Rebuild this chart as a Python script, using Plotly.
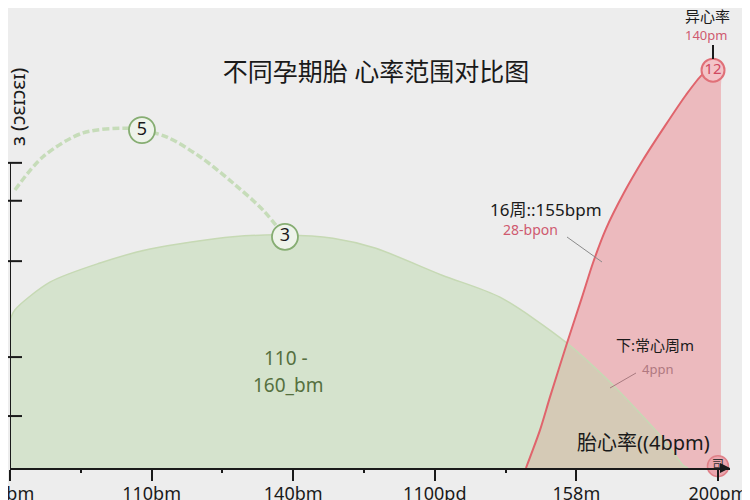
import plotly.graph_objects as go

# page body margin offset (px) of the html page
OFF = 8
W, H = 750 - OFF, 500 - OFF
# plot area on screen: x 10..730, y 8..468
L, R, T, B = 10 - OFF, 750 - 730, 0, 500 - 468
PW, PH = W - L - R, H - T - B
X_MAX = 5.085
Y_PER_PX = 1 / 4.68
Y_MAX = PH * Y_PER_PX

FONT = "Noto Sans, Noto Sans CJK SC, sans-serif"

# ---- data ----
tick_pos = [0, 1, 2, 3, 4, 5]
tick_labels = ["12bm", "110bm", "140bm", "1100pd", "158m", "200pm"]
minor_pos = [0.5, 1.5, 2.5, 3.5]
y_ticks = [65.2, 57.1, 44.2, 23.7, 11.1]

trend_x = [0.035, 0.233, 0.516, 0.847, 0.932, 1.109, 1.342, 1.575, 1.787, 1.942]
trend_y = [59.4, 66.5, 71.6, 72.6, 72.2, 70.7, 66.5, 60.9, 55.1, 49.4]
point_x = [0.932, 1.942]
point_y = [72.2, 49.4]
point_labels = ["5", "3"]

normal_x = [0, 0.035, 0.282, 0.636, 0.989, 1.575, 1.942, 2.281, 2.578, 3.051,
            3.460, 3.934, 4.223, 4.428, 4.640, 4.753, 4.788]
normal_y = [31.6, 33.8, 39.7, 43.8, 46.8, 49.4, 49.8, 49.1, 47.0, 41.2,
            36.5, 26.7, 18.8, 12.4, 5.3, 0.6, 0]

abn_x = [3.644, 3.743, 3.814, 3.934, 4.040, 4.117, 4.209, 4.336, 4.470, 4.626,
         4.774, 4.887, 4.965, 5.021]
abn_y = [0, 8.1, 15.2, 26.7, 36.5, 43.8, 51.1, 58.8, 65.8, 73.1,
         79.7, 84.0, 85.5, 85.5]

peak_x, peak_y, peak_label = [4.965], [85.0], ["12"]
end_x, end_y, end_label = [5.0], [0.4], ["司"]


def px(xs):
    """screen x (px) -> paper x"""
    return (xs - OFF - L) / PW


def py(ys):
    """screen y (px) -> paper y"""
    return (H - B - (ys - OFF)) / PH


fig = go.Figure()

# abnormal (red) area: curve, then straight down the right edge
edge_x = abn_x + [abn_x[-1], abn_x[-1], abn_x[-1]]
edge_y = abn_y + [abn_y[-1] * 0.95, abn_y[-1] * 0.5, 0]
fig.add_trace(go.Scatter(
    x=edge_x, y=edge_y, mode="lines",
    line=dict(color="rgba(0,0,0,0)", width=0, shape="spline", smoothing=0.7),
    fill="tozeroy", fillcolor="#ecbabe", hoverinfo="skip", showlegend=False))

# normal (green) area
fig.add_trace(go.Scatter(
    x=normal_x, y=normal_y, mode="lines",
    line=dict(color="#c6d9b4", width=1.5, shape="spline", smoothing=0.8),
    fill="tozeroy", fillcolor="rgba(190,218,174,0.5)", hoverinfo="skip",
    showlegend=False))

# red edge line
fig.add_trace(go.Scatter(
    x=abn_x[:-1], y=abn_y[:-1], mode="lines",
    line=dict(color="#e0646c", width=2, shape="spline", smoothing=0.7),
    hoverinfo="skip", showlegend=False))

# dashed trend line
fig.add_trace(go.Scatter(
    x=trend_x, y=trend_y, mode="lines",
    line=dict(color="#c6dcb9", width=3.5, dash="7px,3px", shape="spline",
              smoothing=0.9),
    hoverinfo="skip", showlegend=False))

# trend markers
fig.add_trace(go.Scatter(
    x=point_x, y=point_y, mode="markers+text", text=point_labels,
    textposition="middle center",
    textfont=dict(family=FONT, size=18, color="#1a1a1a"),
    marker=dict(size=26, color="#eef3ea", line=dict(color="#86ad72", width=1.8)),
    hoverinfo="skip", showlegend=False))

# peak marker
fig.add_trace(go.Scatter(
    x=peak_x, y=peak_y, mode="markers+text", text=peak_label,
    textposition="middle center",
    textfont=dict(family=FONT, size=15, color="#d04860"),
    marker=dict(size=23, color="#f3c4c8", line=dict(color="#e07078", width=2)),
    hoverinfo="skip", showlegend=False))

# end marker
fig.add_trace(go.Scatter(
    x=end_x, y=end_y, mode="markers+text", text=end_label,
    textposition="middle center",
    textfont=dict(family=FONT, size=12, color="#333333"),
    marker=dict(size=21, color="#eaa6ae", line=dict(color="#e08088", width=1.5)),
    hoverinfo="skip", showlegend=False, cliponaxis=False))

shapes = []
# y axis line
shapes.append(dict(type="line", xref="x", yref="y", x0=0, x1=0, y0=0, y1=y_ticks[0],
                   line=dict(color="#1a1a1a", width=2)))
for yt in y_ticks:
    shapes.append(dict(type="line", xref="paper", yref="y", x0=px(8), x1=px(22),
                       y0=yt, y1=yt, line=dict(color="#1a1a1a", width=2)))
# connector lines
shapes.append(dict(type="line", xref="paper", yref="paper", x0=px(567), y0=py(237),
                   x1=px(602), y1=py(262), line=dict(color="#8a8a8a", width=1)))
shapes.append(dict(type="line", xref="paper", yref="paper", x0=px(610), y0=py(388),
                   x1=px(636), y1=py(373), line=dict(color="#a87a80", width=1)))
shapes.append(dict(type="line", xref="paper", yref="paper", x0=px(713), y0=py(45),
                   x1=px(713), y1=py(59), line=dict(color="#1a1a1a", width=2)))


def ann(xs, ys, text, size, color="#1a1a1a", angle=0):
    return dict(x=px(xs), y=py(ys), xref="paper", yref="paper", text=text,
                showarrow=False, xanchor="center", yanchor="middle",
                textangle=angle, borderpad=0,
                font=dict(family=FONT, size=size, color=color))


annotations = [
    ann(707, 16, "异心率", 15),
    ann(706, 35, "140pm", 13, "#cf5a6f"),
    ann(546, 209, "16周::155bpm", 17),
    ann(530, 229, "28-bpon", 14, "#cf5a6f"),
    ann(655, 345, "下:常心周m", 15),
    ann(657, 369, "4ppn", 13, "#b07880"),
    ann(643, 442, "胎心率((4bpm)", 20),
    ann(286, 358, "110 -", 19, "#55703f"),
    ann(288, 385, "160_bm", 19, "#55703f"),
    ann(18, 107, "ɜ (ɔɛɪɔɛɪ)", 20, "#1a1a1a", -90),
]
# x axis arrow
annotations.append(dict(x=px(730), y=0, xref="paper", yref="paper", ax=-12, ay=0,
                        axref="pixel", ayref="pixel", text="", showarrow=True,
                        arrowhead=2, arrowsize=1, arrowwidth=2, arrowcolor="#1a1a1a"))

fig.update_layout(
    width=W, height=H,
    margin=dict(l=L, r=R, t=T, b=B, autoexpand=False),
    paper_bgcolor="#ededed", plot_bgcolor="#ededed",
    title=dict(text="不同孕期胎 心率范围对比图", x=(376 - OFF) / W, xanchor="center",
               y=1 - (72 - OFF) / H, yanchor="middle",
               font=dict(family=FONT, size=25, color="#1a1a1a")),
    xaxis=dict(range=[0, X_MAX], showgrid=False, zeroline=False, showline=True,
               linecolor="#1a1a1a", linewidth=2, ticks="outside", ticklen=11,
               tickwidth=2, tickcolor="#1a1a1a", tickvals=tick_pos,
               ticktext=tick_labels, ticklabelstandoff=-3,
               ticklabeloverflow="allow",
               tickfont=dict(family=FONT, size=18, color="#1a1a1a"),
               minor=dict(tickvals=minor_pos, ticks="outside", ticklen=3,
                          tickwidth=1.5, tickcolor="#1a1a1a"),
               fixedrange=True),
    yaxis=dict(range=[0, Y_MAX], showgrid=False, zeroline=False, showline=False,
               showticklabels=False, ticks="", fixedrange=True),
    shapes=shapes, annotations=annotations,
    showlegend=False,
)

fig.write_html("out.html")
